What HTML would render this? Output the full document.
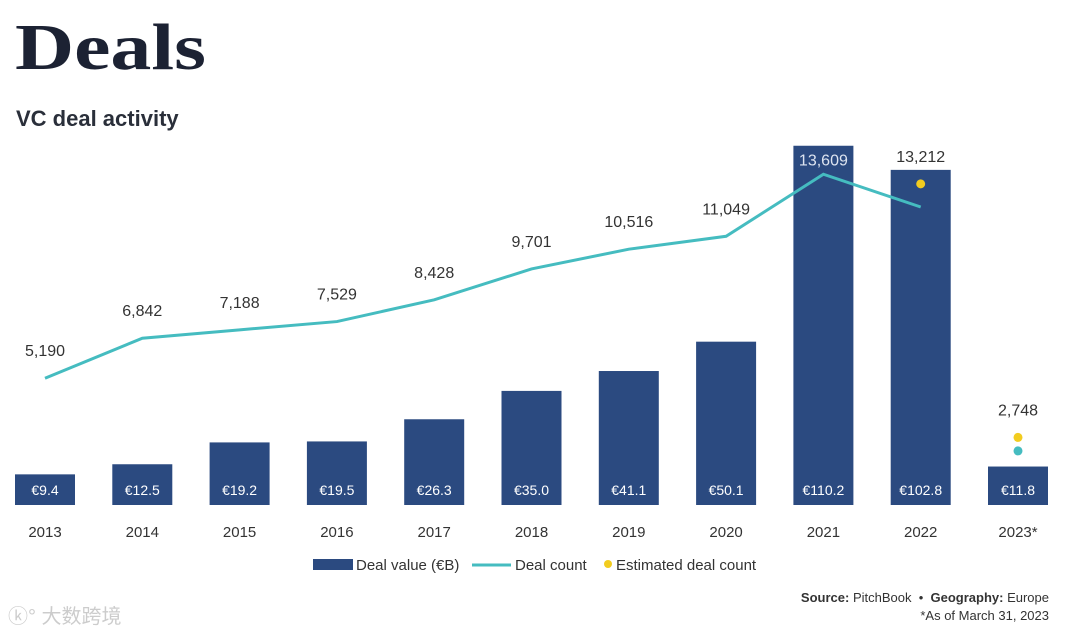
<!DOCTYPE html>
<html><head><meta charset="utf-8"><style>
body{margin:0;background:#fff;width:1080px;height:634px;overflow:hidden;font-family:"Liberation Sans",sans-serif}
#title{position:absolute;left:15px;top:10px;font-family:"Liberation Serif",serif;font-weight:bold;font-size:66px;color:#1c2233;transform:scaleX(1.24);transform-origin:0 0;line-height:1.15}
#sub{position:absolute;left:16px;top:106px;font-size:22px;font-weight:bold;color:#2a2f3a}
svg{position:absolute;left:0;top:0}
.src{position:absolute;right:31px;font-size:13px;color:#333}
</style></head><body>
<div id="title">Deals</div>
<div id="sub">VC deal activity</div>
<svg id="chart" width="1080" height="634"></svg>
<div class="src" style="top:590px"><b>Source:</b> PitchBook &nbsp;•&nbsp; <b>Geography:</b> Europe</div>
<div class="src" style="top:608px">*As of March 31, 2023</div>
<div style="position:absolute;left:8px;top:600px;font-size:20px;color:#ccc;font-family:'Liberation Sans','Noto Sans CJK SC',sans-serif">ⓚ° 大数跨境</div>
<script>
const years=["2013","2014","2015","2016","2017","2018","2019","2020","2021","2022","2023*"];
const dealValue=[9.4,12.5,19.2,19.5,26.3,35.0,41.1,50.1,110.2,102.8,11.8];
const dealCount=[5190,6842,7188,7529,8428,9701,10516,11049,13609,12258,2190];
const countLabels=["5,190","6,842","7,188","7,529","8,428","9,701","10,516","11,049","13,609","13,212","2,748"];
const estimated=[null,null,null,null,null,null,null,null,null,13212,2748];
const NS="http://www.w3.org/2000/svg";
const svg=document.getElementById('chart');
const base=505;
const xc=i=>45+i*97.3;
const yv=v=>base-v*3.26;
const yc=c=>504-c*0.02423;
function mk(t,a,txt){const e=document.createElementNS(NS,t);for(const k in a)e.setAttribute(k,a[k]);if(txt!=null)e.textContent=txt;svg.appendChild(e);return e;}
dealValue.forEach((v,i)=>{
 const r=mk('rect',{x:xc(i)-30,y:yv(v),width:60,height:base-yv(v),fill:'#2b4a80'});
 
 
 const t=mk('text',{x:xc(i),y:base-10,'text-anchor':'middle','font-size':14,fill:'#fff'},'€'+v.toFixed(1));
 
 
 const xl=mk('text',{x:xc(i),y:537,'text-anchor':'middle','font-size':15,fill:'#333'},years[i]);
 
 
});
const n=10;
let d='';for(let i=0;i<n;i++)d+=(i?'L':'M')+xc(i)+','+yc(dealCount[i]);
const line=mk('path',{d:d,fill:'none',stroke:'#45bcc0','stroke-width':3});


const cd=mk('circle',{cx:xc(10),cy:yc(dealCount[10]),r:4.5,fill:'#45bcc0'});


estimated.forEach((e,i)=>{if(e==null)return;
 const c=mk('circle',{cx:xc(i),cy:yc(e),r:4.5,fill:'#f2cc1f'});
 
 
});
const peak=dealCount.indexOf(Math.max(...dealCount));
countLabels.forEach((l,i)=>{
 const ref=estimated[i]!=null?estimated[i]:dealCount[i];
 const off=i===peak?-9:-22;
 const t=mk('text',{x:xc(i),y:yc(ref)+off,'text-anchor':'middle','font-size':16,fill:i===peak?'#dde4f0':'#333'},l);
 
 
});
const r1=mk('rect',{x:313,y:559,width:40,height:11,fill:'#2b4a80'});

const l1=mk('line',{x1:472,y1:565,x2:511,y2:565,stroke:'#45bcc0','stroke-width':3});

const c1=mk('circle',{cx:608,cy:564,r:4,fill:'#f2cc1f'});

[[356,'Deal value (€B)'],[515,'Deal count'],[616,'Estimated deal count']].forEach(a=>{
 const t=mk('text',{x:a[0],y:570,'font-size':15,fill:'#333'},a[1]);
 
 
});
</script>
</body></html>
